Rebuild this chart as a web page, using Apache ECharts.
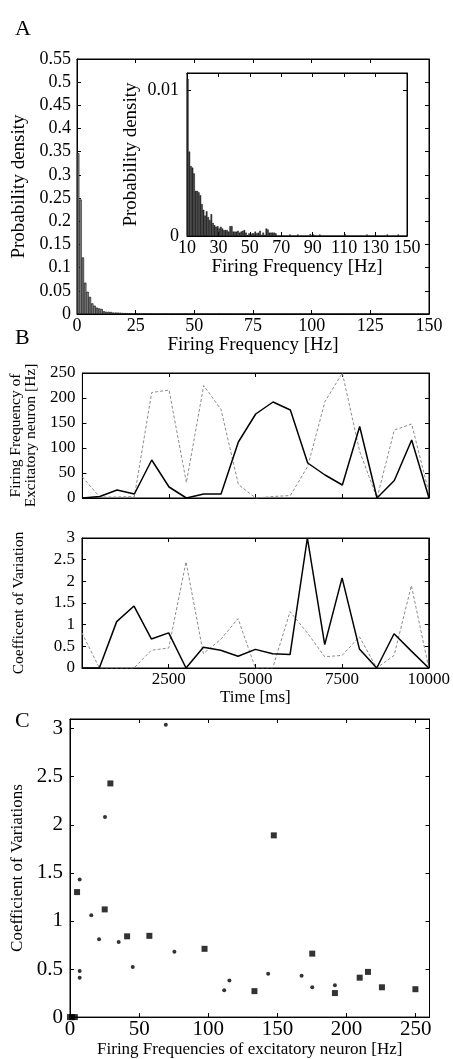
<!DOCTYPE html>
<html>
<head>
<meta charset="utf-8">
<script src="https://cdn.jsdelivr.net/npm/echarts@6/dist/echarts.min.js"></script>
<style>
html,body{margin:0;padding:0;background:#fff;}
#chart{width:453px;height:1059px;}
</style>
</head>
<body>
<div id="chart"></div>
<script>
// ---------- DATA ----------
// Panel A: histogram, 1 Hz bins (bin start in Hz) and probability density
const histBinStart = [];
for (let i = 0; i < 150; i++) histBinStart.push(i);
const histDensity = [
  0.347, 0.247, 0.122, 0.0676, 0.048, 0.037, 0.023, 0.018, 0.0137, 0.012,
  0.0108, 0.0058, 0.0048, 0.0047, 0.0043, 0.0031, 0.0031, 0.0030, 0.0028, 0.0022,
  0.0018, 0.0014, 0.0017, 0.0013, 0.0011, 0.0015, 0.0009, 0.00075, 0.00064, 0.00068,
  0.00052, 0.00064, 0.00052, 0.00041, 0.00041, 0.00041, 0.0003, 0.00068, 0.00068, 0.0003,
  0.0003, 0.0003, 0.00036, 0.00023, 0.0003, 0.00036, 0.00041, 0.00023, 0.00007, 0.00018,
  0.00007, 0.00018, 0.00018, 0.0003, 0.00018, 0.00023, 0.00036, 0.00007, 0.00023, 0.00007,
  0.00052, 0.00045, 0.00023, 0.00023, 0.00023, 0.00023, 0.00018, 0, 0, 0,
  0, 0, 0, 0, 0, 0.0001, 0, 0, 0, 0,
  0.0001, 0, 0, 0, 0, 0, 0, 0, 0.00013, 0,
  0.0001, 0, 0, 0, 0.0001, 0, 0, 0, 0, 0,
  0, 0, 0, 0, 0, 0, 0, 0, 0, 0,
  0.00013, 0, 0, 0, 0, 0, 0, 0, 0, 0,
  0, 0, 0, 0, 0.0001, 0, 0, 0, 0, 0,
  0, 0, 0, 0, 0, 0, 0, 0.0001, 0, 0,
  0, 0, 0, 0, 0.0001, 0, 0, 0, 0, 0
];

// Panel B: time course (ms)
const timeMs = [0,500,1000,1500,2000,2500,3000,3500,4000,4500,5000,5500,6000,6500,7000,7500,8000,8500,9000,9500,10000];
const rateSolid  = [0, 3, 16, 8, 76, 22, 0, 8, 8, 112, 168, 192, 176, 70, 46, 26, 143, 0, 35, 116, 0];
const rateDashed = [42, 2, 2, 3, 211, 216, 31, 225, 177, 27, 0, 3, 5, 63, 193, 250, 93, 0, 136, 148, 10];
const cvSolid    = [0, 0, 1.07, 1.43, 0.67, 0.81, 0, 0.48, 0.41, 0.27, 0.43, 0.33, 0.31, 3.0, 0.54, 2.08, 0.44, 0, 0.79, 0.39, 0];
const cvDashed   = [0.81, 0, 0, 0, 0.41, 0.46, 2.45, 0.33, 0.66, 1.14, 0, 0, 1.3, 0.81, 0.26, 0.29, 0.72, 0, 0.29, 1.9, 0];

// Panel C: CV vs firing frequency
const squareFreq = [0, 1.5, 3.5, 5.1, 25.1, 29.2, 41.3, 57.4, 97.3, 133.4, 147.4, 175.2, 191.6, 209.5, 215.5, 225.6, 249.8];
const squareCV   = [0, 0, 0, 1.30, 1.12, 2.43, 0.84, 0.845, 0.71, 0.27, 1.89, 0.66, 0.25, 0.41, 0.47, 0.31, 0.29];
const dotFreq = [69.3, 25.3, 7.0, 15.4, 21.0, 35.2, 7.0, 7.0, 45.4, 75.5, 111.5, 115.3, 143.3, 167.5, 175.2, 191.6];
const dotCV   = [3.04, 2.08, 1.43, 1.06, 0.81, 0.78, 0.48, 0.41, 0.52, 0.68, 0.28, 0.38, 0.45, 0.43, 0.31, 0.33];

// ---------- CHART ----------
const FONT = 'Liberation Serif';
const chart = echarts.init(document.getElementById('chart'), null, {renderer: 'canvas'});

const histMain = histBinStart.map((b, i) => [b + 0.5, histDensity[i]]);
const histInset = histBinStart.map((b, i) => [b + 0.5, histDensity[i]]).filter(d => d[0] >= 10);

const plain = v => String(v);
function txt(size) { return {fontFamily: FONT, fontSize: size, color: '#000'}; }
function lbl(size, extra) { return Object.assign(txt(size), {formatter: plain}, extra); }

function baseX(grid, o) {
  return Object.assign({
    type: 'value', gridIndex: grid, position: 'bottom',
    axisLine: {show: true, onZero: false, lineStyle: {color: '#000', width: 1}},
    axisTick: {show: true, inside: true, length: 4, lineStyle: {color: '#000'}},
    splitLine: {show: false},
    nameLocation: 'middle'
  }, o);
}
function baseY(grid, o) {
  return Object.assign({
    type: 'value', gridIndex: grid, position: 'left',
    axisLine: {show: true, onZero: false, lineStyle: {color: '#000', width: 1}},
    axisTick: {show: true, inside: true, length: 4, lineStyle: {color: '#000'}},
    splitLine: {show: false},
    nameLocation: 'middle', nameRotate: 90
  }, o);
}
function mirror(ax, pos) {
  return Object.assign({}, ax, {position: pos, name: '', axisLabel: {show: false}});
}

const xA = baseX(0, {min: 0, max: 150, interval: 25,
  axisLabel: lbl(18, {margin: 3}),
  name: 'Firing Frequency [Hz]', nameGap: 17, nameTextStyle: txt(19)});
const yA = baseY(0, {min: 0, max: 0.55, interval: 0.05,
  axisLabel: lbl(18, {margin: 6}),
  name: 'Probability density', nameGap: 46, nameTextStyle: txt(19)});

const xI = baseX(1, {min: 10, max: 150, interval: 20,
  axisLabel: lbl(18, {margin: 3}),
  name: 'Firing Frequency [Hz]', nameGap: 22, nameTextStyle: txt(19)});
const yI = baseY(1, {min: 0, max: 0.0112, interval: 0.01,
  axisLabel: lbl(18, {margin: 8, showMaxLabel: false}),
  name: 'Probability density', nameGap: 46, nameTextStyle: txt(19)});

const xB1 = baseX(2, {min: 0, max: 10000, interval: 2500, axisLabel: {show: false}});
const yB1 = baseY(2, {min: 0, max: 250, interval: 50,
  axisLabel: lbl(17, {margin: 7}),
  name: 'Firing Frequency of\nExcitatory neuron [Hz]', nameGap: 32,
  nameTextStyle: Object.assign(txt(15.5), {lineHeight: 15})});

const xB2 = baseX(3, {min: 0, max: 10000, interval: 2500,
  axisLabel: lbl(17, {margin: 3, showMinLabel: false}),
  name: 'Time [ms]', nameGap: 20, nameTextStyle: txt(17)});
const yB2 = baseY(3, {min: 0, max: 3, interval: 0.5,
  axisLabel: lbl(17, {margin: 7}),
  name: 'Coefficent of Variation', nameGap: 55, nameTextStyle: txt(15.5)});

const xC = baseX(4, {min: 0, max: 260, interval: 50,
  axisLabel: lbl(21, {margin: 2, showMaxLabel: false}),
  name: 'Firing Frequencies of excitatory neuron [Hz]', nameGap: 22, nameTextStyle: txt(17)});
const yC = baseY(4, {min: 0, max: 3.1, interval: 0.5,
  axisLabel: lbl(21, {margin: 7, showMaxLabel: false}),
  name: 'Coefficient of Variations', nameGap: 43, nameTextStyle: txt(17)});

const xAxes = [xA, xI, xB1, xB2, xC,
  mirror(xA, 'top'), mirror(xI, 'top'), mirror(xB1, 'top'), mirror(xB2, 'top'), mirror(xC, 'top')];
const yAxes = [yA, yI, yB1, yB2, yC,
  mirror(yA, 'right'), mirror(yI, 'right'), mirror(yB1, 'right'), mirror(yB2, 'right'), mirror(yC, 'right')];

const gridStyle = {show: true, borderColor: '#000', borderWidth: 1, backgroundColor: '#fff', containLabel: false};
const panelTitle = {fontFamily: FONT, fontSize: 22, fontWeight: 'normal', color: '#000'};

const option = {
  backgroundColor: '#fff',
  animation: false,
  title: [
    {text: 'A', left: 10, top: 13, textStyle: panelTitle},
    {text: 'B', left: 10, top: 322, textStyle: panelTitle},
    {text: 'C', left: 10, top: 705, textStyle: panelTitle}
  ],
  grid: [
    Object.assign({left: 77, top: 59, width: 352, height: 255}, gridStyle),
    Object.assign({left: 187, top: 73, width: 220, height: 163}, gridStyle),
    Object.assign({left: 82, top: 373, width: 347, height: 125}, gridStyle),
    Object.assign({left: 82, top: 538, width: 347, height: 130}, gridStyle),
    Object.assign({left: 70, top: 719, width: 359.5, height: 300}, gridStyle)
  ],
  xAxis: xAxes,
  yAxis: yAxes,
  series: [
    {type: 'bar', xAxisIndex: 0, yAxisIndex: 0, data: histMain, barWidth: 2.35,
     itemStyle: {color: '#8a8a8a', borderColor: '#000', borderWidth: 0.6}},
    {type: 'bar', xAxisIndex: 1, yAxisIndex: 1, data: histInset, barWidth: 1.6,
     itemStyle: {color: '#3a3a3a', borderColor: '#000', borderWidth: 0.4}},
    {type: 'line', xAxisIndex: 2, yAxisIndex: 2, data: timeMs.map((t, i) => [t, rateDashed[i]]),
     symbol: 'none', lineStyle: {color: '#8c8c8c', width: 1, type: [3, 2]}},
    {type: 'line', xAxisIndex: 2, yAxisIndex: 2, data: timeMs.map((t, i) => [t, rateSolid[i]]),
     symbol: 'none', lineStyle: {color: '#000', width: 1.5}},
    {type: 'line', xAxisIndex: 3, yAxisIndex: 3, data: timeMs.map((t, i) => [t, cvDashed[i]]),
     symbol: 'none', lineStyle: {color: '#8c8c8c', width: 1, type: [3, 2]}},
    {type: 'line', xAxisIndex: 3, yAxisIndex: 3, data: timeMs.map((t, i) => [t, cvSolid[i]]),
     symbol: 'none', lineStyle: {color: '#000', width: 1.5}},
    {type: 'scatter', xAxisIndex: 4, yAxisIndex: 4, data: squareFreq.map((f, i) => [f, squareCV[i]]),
     symbol: 'rect', symbolSize: 6, itemStyle: {color: '#000'}, clip: false},
    {type: 'scatter', xAxisIndex: 4, yAxisIndex: 4, data: dotFreq.map((f, i) => [f, dotCV[i]]),
     symbol: 'circle', symbolSize: 4, itemStyle: {color: '#000'}, clip: false}
  ]
};
chart.setOption(option);
</script>
</body>
</html>
